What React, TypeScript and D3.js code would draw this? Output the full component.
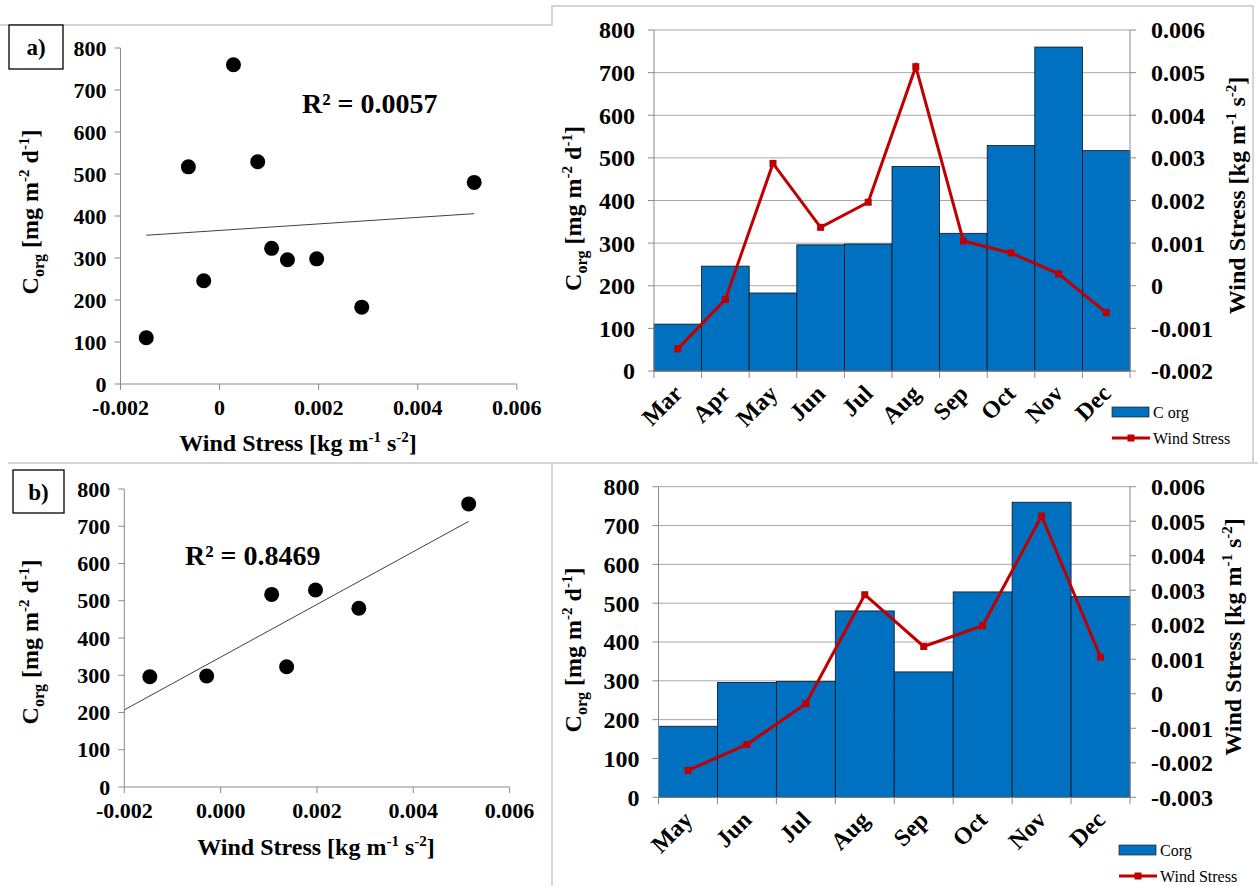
import React from 'react';
import * as d3 from 'd3';

// monthly data, panel a) (Mar - Dec)
const monthsA = ['Mar', 'Apr', 'May', 'Jun', 'Jul', 'Aug', 'Sep', 'Oct', 'Nov', 'Dec'];
const corgA = [110, 246, 183, 296, 298, 480, 323, 529, 760, 517];
const windA = [-0.00148, -0.00032, 0.00287, 0.00137, 0.00196, 0.00514, 0.00105, 0.00077, 0.00028, -0.00063];

// monthly data, panel b) (May - Dec, wind lagged)
const monthsB = ['May', 'Jun', 'Jul', 'Aug', 'Sep', 'Oct', 'Nov', 'Dec'];
const corgB = [183, 296, 298, 480, 323, 529, 760, 517];
const windB = [-0.00222, -0.00147, -0.00029, 0.00287, 0.00137, 0.00197, 0.00515, 0.00106];

const corgTicks = [0, 100, 200, 300, 400, 500, 600, 700, 800];
const scatterXTicks = [-0.002, 0, 0.002, 0.004, 0.006];
const windTicksA = [-0.002, -0.001, 0, 0.001, 0.002, 0.003, 0.004, 0.005, 0.006];
const windTicksB = [-0.003, -0.002, -0.001, 0, 0.001, 0.002, 0.003, 0.004, 0.005, 0.006];

const AXIS = '#8a8a8a';
const GRID = '#a8a8a8';
const BLUE = '#0070C0';
const RED = '#C00000';
const SERIF = { fontFamily: "'Liberation Serif'" };

const fmtWind = (v: number) => (Math.abs(v) < 1e-9 ? '0' : d3.format('.3f')(v).replace('−', '-'));
const fmtWind3 = (v: number) => d3.format('.3f')(Math.abs(v) < 1e-9 ? 0 : v).replace('−', '-');

function CorgTitle({ x, y }: { x: number; y: number }) {
  return (
    <text transform={`translate(${x},${y}) rotate(-90)`} textAnchor="middle" dy="0.35em"
      fontSize={24} fontWeight="bold" style={SERIF}>
      C<tspan fontSize={16} dy={6}>org</tspan>
      <tspan dy={-6}> [mg m</tspan>
      <tspan fontSize={15} dy={-9}>-2</tspan>
      <tspan dy={9}> d</tspan>
      <tspan fontSize={15} dy={-9}>-1</tspan>
      <tspan dy={9}>]</tspan>
    </text>
  );
}

function WindTitle({ x, y, rotate }: { x: number; y: number; rotate?: boolean }) {
  return (
    <text transform={`translate(${x},${y})${rotate ? ' rotate(-90)' : ''}`} textAnchor="middle" dy="0.35em"
      fontSize={24} fontWeight="bold" style={SERIF}>
      Wind Stress [kg m<tspan fontSize={15} dy={-9}>-1</tspan>
      <tspan dy={9}> s</tspan>
      <tspan fontSize={15} dy={-9}>-2</tspan>
      <tspan dy={9}>]</tspan>
    </text>
  );
}

function Scatter({ id, left, right, top, bottom, xs, ys, xFmt, r2, r2x, r2y, xTitleX, xTitleY, yTitleY, tag, tagBox }: any) {
  const x = d3.scaleLinear().domain([-0.002, 0.006]).range([left, right]);
  const y = d3.scaleLinear().domain([0, 800]).range([bottom, top]);
  // least squares trend line
  const mx = d3.mean(xs) as number;
  const my = d3.mean(ys) as number;
  const sxy = d3.sum(xs, (v: number, i: number) => (v - mx) * (ys[i] - my));
  const sxx = d3.sum(xs, (v: number) => (v - mx) ** 2);
  const slope = sxy / sxx;
  const icpt = my - slope * mx;
  const [x0, x1] = d3.extent(xs) as [number, number];
  const line = d3.line<number>().x(v => x(v)).y(v => y(icpt + slope * v));
  return (
    <g>
      <defs>
        <clipPath id={id}>
          <rect x={left} y={top - 10} width={right - left + 10} height={bottom - top + 10} />
        </clipPath>
      </defs>
      <rect x={tagBox[0]} y={tagBox[1]} width={tagBox[2]} height={tagBox[3]} fill="#fff" stroke="#000" strokeWidth={1.3} />
      <text x={tagBox[0] + tagBox[2] / 2} y={tagBox[1] + tagBox[3] / 2} dy="0.35em" textAnchor="middle"
        fontSize={23} fontWeight="bold" style={SERIF}>{tag}</text>
      <line x1={left} x2={left} y1={top} y2={bottom} stroke={AXIS} />
      <line x1={left} x2={right} y1={bottom} y2={bottom} stroke={AXIS} />
      {corgTicks.map(t => (
        <g key={t}>
          <line x1={left - 6} x2={left} y1={y(t)} y2={y(t)} stroke={AXIS} />
          <text x={left - 14} y={y(t)} dy="0.35em" textAnchor="end" fontSize={22} fontWeight="bold" style={SERIF}>{t}</text>
        </g>
      ))}
      {scatterXTicks.map(t => (
        <g key={t}>
          <line x1={x(t)} x2={x(t)} y1={bottom} y2={bottom + 6} stroke={AXIS} />
          <text x={x(t)} y={bottom + 31} textAnchor="middle" fontSize={22} fontWeight="bold" style={SERIF}>{xFmt(t)}</text>
        </g>
      ))}
      <g clipPath={`url(#${id})`}>
        <path d={line([x0, x1]) as string} stroke="#404040" strokeWidth={1} fill="none" />
        {xs.map((v: number, i: number) => (
          <circle key={i} cx={x(v)} cy={y(ys[i])} r={7.5} fill="#000" />
        ))}
      </g>
      <text x={r2x} y={r2y} dy="0.35em" fontSize={28} fontWeight="bold" style={SERIF}>{r2}</text>
      <CorgTitle x={30} y={yTitleY} />
      <WindTitle x={xTitleX} y={xTitleY} />
    </g>
  );
}

function Combo({ left, right, top, bottom, months, corg, wind, windTicks, legendX, legendY, corgLabel, rightTitleX }: any) {
  const x = d3.scaleBand<string>().domain(months).range([left, right]).padding(0);
  const y = d3.scaleLinear().domain([0, 800]).range([bottom, top]);
  const yw = d3.scaleLinear().domain([windTicks[0], windTicks[windTicks.length - 1]]).range([bottom, top]);
  const bw = x.bandwidth();
  const line = d3.line<number>().x((_, i) => (x(months[i]) as number) + bw / 2).y(v => yw(v));
  return (
    <g>
      {corgTicks.map(t => (
        <g key={t}>
          <line x1={left} x2={right} y1={y(t)} y2={y(t)} stroke={GRID} />
          <line x1={left - 6} x2={left} y1={y(t)} y2={y(t)} stroke={AXIS} />
          <text x={left - 19} y={y(t)} dy="0.35em" textAnchor="end" fontSize={24} fontWeight="bold" style={SERIF}>{t}</text>
        </g>
      ))}
      {months.map((m: string, i: number) => (
        <rect key={m} x={x(m)} y={y(corg[i])} width={bw} height={bottom - y(corg[i])} fill={BLUE} stroke="#111" strokeWidth={0.8} />
      ))}
      <line x1={left} x2={left} y1={top} y2={bottom} stroke={AXIS} />
      <line x1={right} x2={right} y1={top} y2={bottom} stroke={AXIS} />
      <line x1={left} x2={right} y1={bottom} y2={bottom} stroke={AXIS} />
      {[...months, null].map((m: any, i: number) => {
        const px = left + i * bw;
        return <line key={i} x1={px} x2={px} y1={bottom} y2={bottom + 7} stroke={AXIS} />;
      })}
      {windTicks.map((t: number) => (
        <g key={t}>
          <line x1={right} x2={right + 6} y1={yw(t)} y2={yw(t)} stroke={AXIS} />
          <text x={right + 21} y={yw(t)} dy="0.35em" fontSize={24} fontWeight="bold" style={SERIF}>{fmtWind(t)}</text>
        </g>
      ))}
      <path d={line(wind) as string} fill="none" stroke={RED} strokeWidth={3} />
      {wind.map((v: number, i: number) => (
        <rect key={i} x={(x(months[i]) as number) + bw / 2 - 3.5} y={yw(v) - 3.5} width={7} height={7} fill={RED} />
      ))}
      {months.map((m: string) => {
        const cx = (x(m) as number) + bw / 2 + 6;
        const cy = bottom + 24;
        return (
          <text key={m} transform={`translate(${cx},${cy}) rotate(-45)`} textAnchor="end"
            fontSize={24} fontWeight="bold" style={SERIF}>{m}</text>
        );
      })}
      <CorgTitle x={573} y={(top + bottom) / 2 + 8} />
      <WindTitle x={rightTitleX} y={(top + bottom) / 2 - 5} rotate />
      <rect x={legendX} y={legendY - 5} width={37} height={10} fill={BLUE} stroke="#222" strokeWidth={0.7} />
      <text x={legendX + 41} y={legendY} dy="0.35em" fontSize={16} style={SERIF}>{corgLabel}</text>
      <line x1={legendX} x2={legendX + 38} y1={legendY + 26} y2={legendY + 26} stroke={RED} strokeWidth={3} />
      <rect x={legendX + 15.5} y={legendY + 22.5} width={7} height={7} fill={RED} />
      <text x={legendX + 41} y={legendY + 26} dy="0.35em" fontSize={16} style={SERIF}>Wind Stress</text>
    </g>
  );
}

export default function App() {
  return (
    <svg width={1259} height={886} style={{ position: 'absolute', left: 0, top: 0, background: '#fff' }}>
      <rect x={0} y={0} width={1259} height={886} fill="#fff" />
      {/* panel frames */}
      <g stroke="#c8c8c8" strokeWidth={1.5} fill="none">
        <polyline points="0,25 552,25 552,6 1253,6 1253,462" />
        <line x1={8} x2={1258} y1={463} y2={463} />
        <line x1={552} x2={552} y1={463} y2={886} />
      </g>
      <Scatter id="clipA" left={120.5} right={516.8} top={48} bottom={384}
        xs={windA} ys={corgA} xFmt={fmtWind} r2="R² = 0.0057" r2x={302} r2y={103}
        xTitleX={298} xTitleY={443} yTitleY={212} tag="a)" tagBox={[9, 25, 54, 44]} />
      <Combo left={654} right={1130} top={30} bottom={371} months={monthsA} corg={corgA} wind={windA}
        windTicks={windTicksA} legendX={1112} legendY={412} corgLabel="C org" rightTitleX={1237} />
      {/* scatter b): the May point lies left of the axis range and is clipped, as in the original */}
      <Scatter id="clipB" left={124.3} right={509.6} top={489} bottom={787}
        xs={windB} ys={corgB} xFmt={fmtWind3} r2="R² = 0.8469" r2x={185} r2y={555}
        xTitleX={316} xTitleY={847} yTitleY={642} tag="b)" tagBox={[13, 470, 51, 43]} />
      <Combo left={658.5} right={1130} top={486.7} bottom={797.3} months={monthsB} corg={corgB} wind={windB}
        windTicks={windTicksB} legendX={1119} legendY={850} corgLabel="Corg" rightTitleX={1233} />
    </svg>
  );
}
